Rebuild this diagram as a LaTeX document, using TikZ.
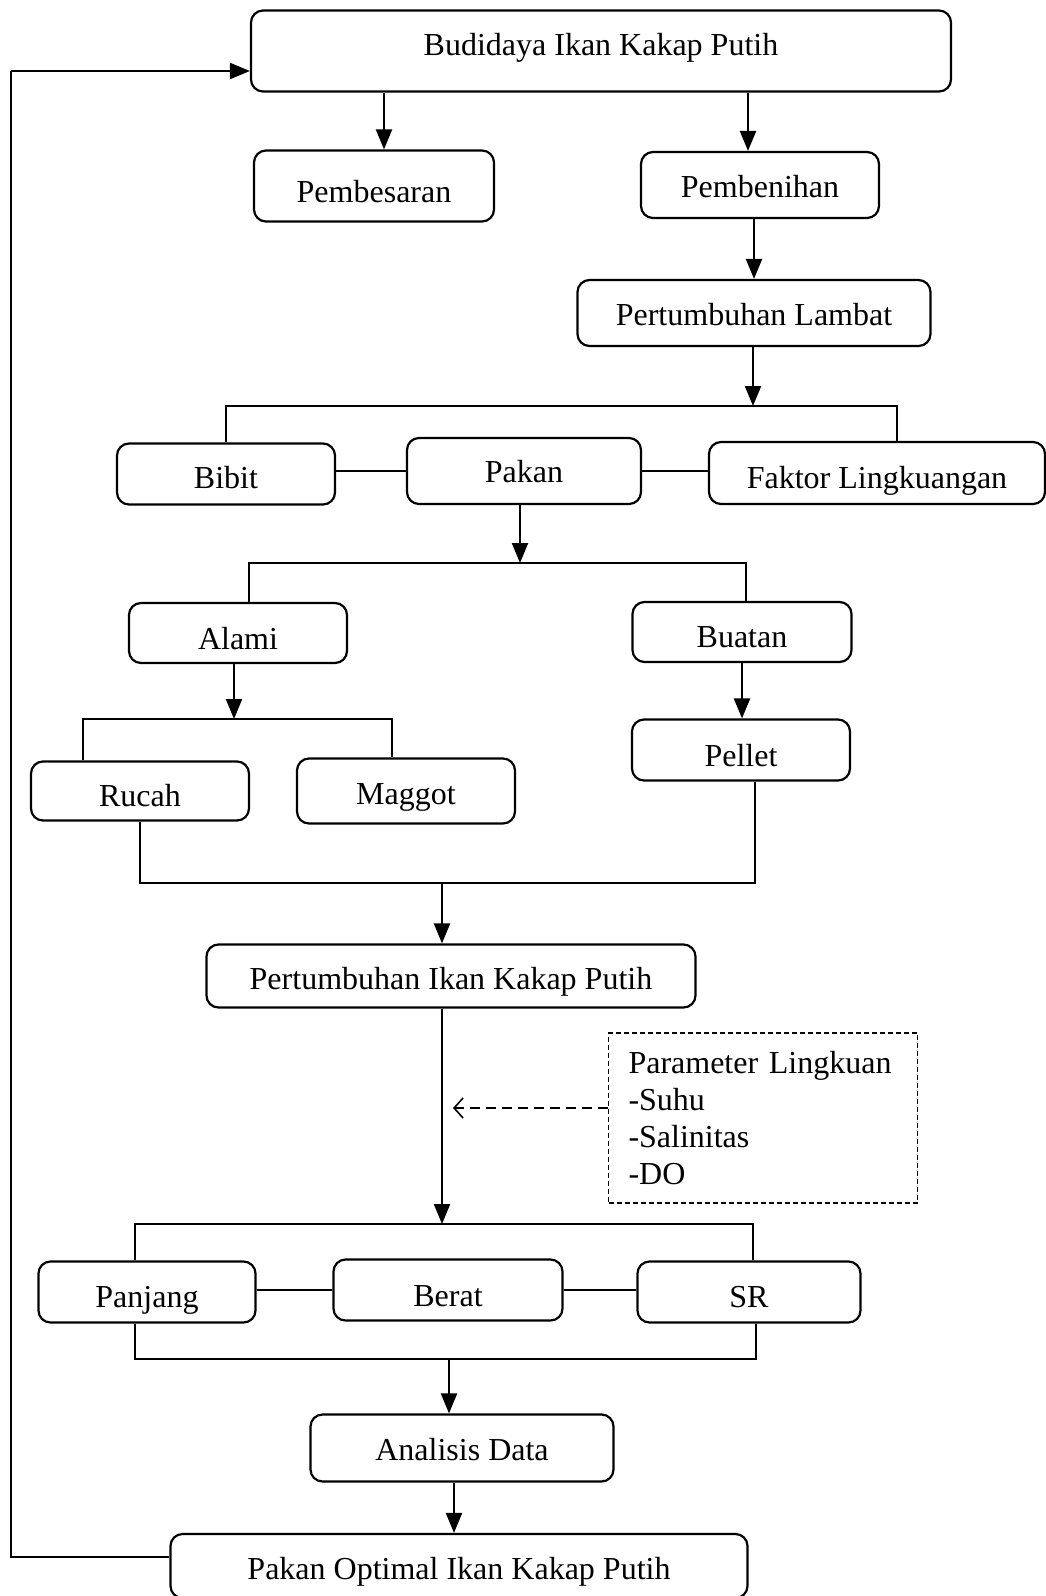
\documentclass[tikz,border=0pt]{standalone}
\usepackage{fontspec}
\setmainfont{Liberation Serif}
\usetikzlibrary{arrows.meta,positioning,calc}

\begin{document}
\begin{tikzpicture}[x=1pt,y=-1pt,font=\fontsize{32}{37}\selectfont]
  \tikzstyle{box}=[rectangle,draw=black,line width=2.2pt,rounded corners=12pt,minimum height=61pt,align=center,inner sep=0pt,text height=30pt,text depth=0pt]
  \tikzstyle{arr}=[line width=2.2pt,-{Triangle[length=20pt,width=16pt]}]
  \tikzstyle{link}=[line width=1.3pt]
  \useasboundingbox[fill=white] (0,0) rectangle (1046,1596);
  \node[box,minimum width=700pt,minimum height=81pt,text height=9pt] (budidaya) at (601,51) {Budidaya Ikan Kakap Putih};
  \node[box,minimum width=240pt,minimum height=71pt,text height=32pt] (pembesaran) at (374,186) {Pembesaran};
  \node[box,minimum width=238pt,minimum height=66pt,text height=24pt] (pembenihan) at (760,185) {Pembenihan};
  \node[box,minimum width=353pt,minimum height=66pt,text height=24pt] (lambat) at (754,313) {Pertumbuhan Lambat};
  \node[box,minimum width=218pt,text height=28pt] (bibit) at (226,474) {Bibit};
  \node[box,minimum width=234pt,minimum height=66pt,text height=22pt] (pakan) at (524,471) {Pakan};
  \node[box,minimum width=336pt,minimum height=62pt] (faktor) at (877,473) {Faktor Lingkuangan};
  \node[box,minimum width=218pt,minimum height=60pt,text height=32pt] (alami) at (238,633) {Alami};
  \node[box,minimum width=219pt,minimum height=60pt] (buatan) at (742,632) {Buatan};
  \node[box,minimum width=218pt,minimum height=59pt] (rucah) at (140,791) {Rucah};
  \node[box,minimum width=218pt,minimum height=65pt,text height=27pt] (maggot) at (406,791) {Maggot};
  \node[box,minimum width=218pt,text height=32pt] (pellet) at (741,750) {Pellet};
  \node[box,minimum width=489pt,minimum height=63pt,text height=26pt] (pertikan) at (451,976) {Pertumbuhan Ikan Kakap Putih};
  \node[draw=black,line width=1.2pt,dash pattern=on 5pt off 3pt,minimum width=309pt,minimum height=170pt,text width=269pt,inner xsep=20pt,align=left] (param) at (763,1118) {Parameter Lingkuan\\-Suhu\\-Salinitas\\-DO};
  \node[box,minimum width=217pt,text height=31pt] (panjang) at (147,1292) {Panjang};
  \node[box,minimum width=229pt,text height=32pt] (berat) at (448,1290) {Berat};
  \node[box,minimum width=223pt] (sr) at (749,1292) {SR};
  \node[box,minimum width=303pt,minimum height=67pt,text height=24pt] (analisis) at (462,1448) {Analisis Data};
  \node[box,minimum width=577pt,minimum height=64pt,text height=26pt] (optimal) at (459,1566) {Pakan Optimal Ikan Kakap Putih};

  \coordinate (j1) at (753,406);
  \coordinate (j2) at (520,563);
  \coordinate (j3) at (234,719);
  \coordinate (j4) at (442,883);
  \coordinate (j5) at (442,1224);
  \coordinate (j6) at (449,1359);
  \coordinate (dp) at (453,1108);
  \coordinate (fb) at (11,71);
  \coordinate (pl) at ([xshift=14pt]pellet.south);

  \draw[arr] ([xshift=10pt]pembesaran.north |- budidaya.south) -- ([xshift=10pt]pembesaran.north);
  \draw[arr] ([xshift=-12pt]pembenihan.north |- budidaya.south) -- ([xshift=-12pt]pembenihan.north);
  \draw[arr] (pembenihan.south -| lambat.north) -- (lambat.north);
  \draw[arr] (lambat.south -| j1) -- (j1);
  \draw[link] (bibit.north) |- (j1) -| ([xshift=20pt]faktor.north);
  \draw[link] (bibit.east |- pakan) -- (pakan.west);
  \draw[link] (pakan.east) -- (faktor.west |- pakan);
  \draw[arr] (pakan.south -| j2) -- (j2);
  \draw[link] ([xshift=11pt]alami.north) |- (j2) -| ([xshift=4pt]buatan.north);
  \draw[arr] (alami.south -| j3) -- (j3);
  \draw[link] ([xshift=-57pt]rucah.north) |- (j3) -| ([xshift=-14pt]maggot.north);
  \draw[arr] (buatan.south) -- (buatan.south |- pellet.north);
  \draw[link] (rucah.south) |- (pl |- j4) -- (pl);
  \draw[arr] (j4) -- (j4 |- pertikan.north);
  \draw[arr] (j4 |- pertikan.south) -- (j5);
  \draw[line width=1.6pt,dash pattern=on 10pt off 6pt,-{Straight Barb[length=9pt,width=20pt]}] (param.west |- dp) -- (dp);
  \draw[link] ([xshift=-12pt]panjang.north) |- (j5) -| ([xshift=4pt]sr.north);
  \draw[link] (panjang.east |- berat) -- (berat.west);
  \draw[link] (berat.east) -- (sr.west |- berat);
  \draw[link] ([xshift=-12pt]panjang.south) |- (j6) -| ([xshift=7pt]sr.south);
  \draw[arr] (j6) -- (j6 |- analisis.north);
  \draw[arr] ([xshift=-8pt]analisis.south) -- ([xshift=-8pt]analisis.south |- optimal.north);
  \draw[link] ([yshift=9pt]optimal.west) -| (fb);
  \draw[arr] (fb) -- ([yshift=-20pt]budidaya.west);
\end{tikzpicture}
\end{document}
